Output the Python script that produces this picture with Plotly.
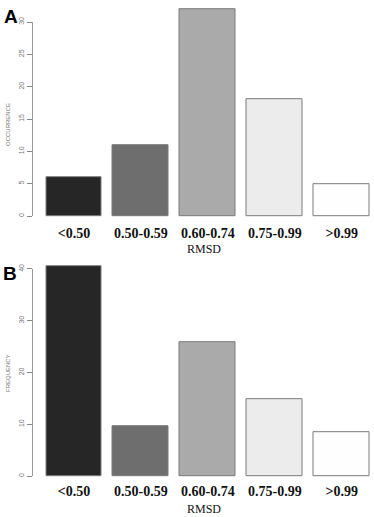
import plotly.graph_objects as go

categories = ["<0.50", "0.50-0.59", "0.60-0.74", "0.75-0.99", ">0.99"]
occurrence = [6, 11, 32, 18, 5]
frequency = [40.5, 9.7, 25.8, 14.8, 8.4]
bar_colors = ["#262626", "#6e6e6e", "#aaaaaa", "#ececec", "#fefefe"]
ticks_a = [0, 5, 10, 15, 20, 25, 30]
ticks_b = [0, 10, 20, 30, 40]

W, H = 374, 517
def py(px):
    return 1 - px / H

fig = go.Figure()
xpos = list(range(len(categories)))
fig.add_trace(go.Bar(x=xpos, y=occurrence, width=0.836, marker=dict(color=bar_colors, line=dict(color="#7a7a7a", width=1)),
                     xaxis="x", yaxis="y", showlegend=False))
fig.add_trace(go.Bar(x=xpos, y=frequency, width=0.836, marker=dict(color=bar_colors, line=dict(color="#7a7a7a", width=1)),
                     xaxis="x2", yaxis="y2", showlegend=False))

xdom = [32.5 / W, 373.9 / W]
xaxis_common = dict(domain=xdom, range=[-0.62, 4.48], tickmode="array", tickvals=xpos,
                    ticktext=["<b>%s</b>" % c for c in categories],
                    showgrid=False, zeroline=False, showline=False, ticks="",
                    tickfont=dict(family="Liberation Serif", size=14, color="#111111"))
yaxis_common = dict(showgrid=False, zeroline=False, showline=False, ticks="outside", ticklen=5,
                    tickcolor="#888888", tickwidth=1, tickangle=-90,
                    tickfont=dict(family="Liberation Sans", size=7, color="#777777"))

fig.update_layout(
    width=W, height=H, margin=dict(l=0, r=0, t=0, b=0),
    paper_bgcolor="white", plot_bgcolor="white", bargap=0,
    xaxis=dict(anchor="y", **xaxis_common),
    xaxis2=dict(anchor="y2", **xaxis_common),
    yaxis=dict(anchor="x", domain=[py(222.5), py(5.2)], range=[-1, 32.6], tickvals=ticks_a, **yaxis_common),
    yaxis2=dict(anchor="x2", domain=[py(481.2), py(261.2)], range=[-1, 41.5], tickvals=ticks_b, **yaxis_common),
)

# R-style axis lines spanning tick range
fig.add_shape(type="line", xref="paper", yref="y", x0=xdom[0], x1=xdom[0], y0=0, y1=30,
              line=dict(color="#999999", width=1))
fig.add_shape(type="line", xref="paper", yref="y2", x0=xdom[0], x1=xdom[0], y0=0, y1=40,
              line=dict(color="#999999", width=1))

def label(text, x, y, size, family, color, angle=0):
    return dict(text=text, x=x / W, y=py(y), xref="paper", yref="paper", textangle=angle, showarrow=False,
                xanchor="center", yanchor="middle", borderpad=0, font=dict(family=family, size=size, color=color))

ann = [
    label("OCCURRENCE", 8, 125, 6, "Liberation Sans", "#777777", -90),
    label("FREQUENCY", 8, 373, 6, "Liberation Sans", "#777777", -90),
    label("<b>A</b>", 11, 17, 19, "Liberation Sans", "#000000"),
    label("<b>B</b>", 10, 273, 19, "Liberation Sans", "#000000"),
    label("RMSD", 204, 249, 12, "Liberation Serif", "#111111"),
    label("RMSD", 204, 509, 12, "Liberation Serif", "#111111"),
]
fig.update_layout(annotations=ann)

fig.write_html("out.html")
